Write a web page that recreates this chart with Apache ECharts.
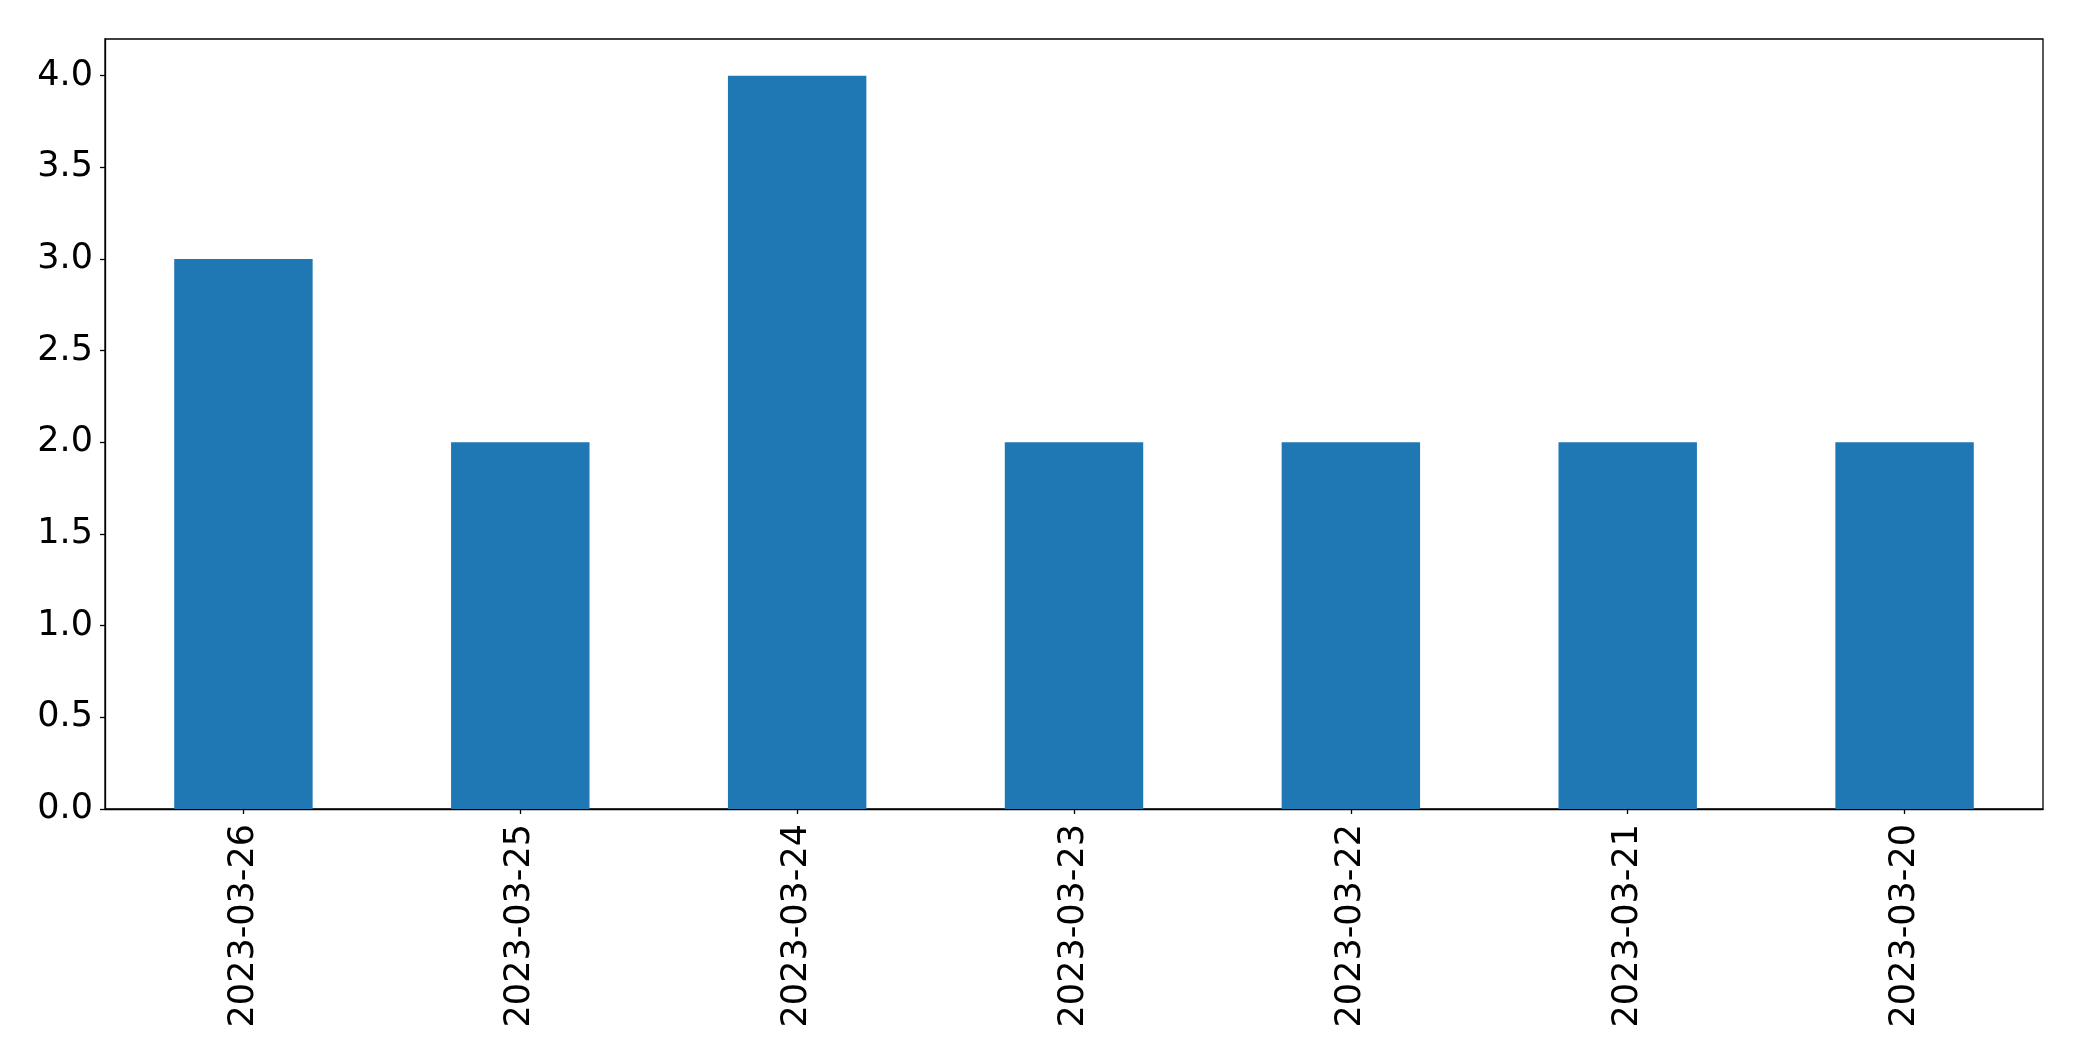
<!DOCTYPE html>
<html>
<head>
<meta charset="utf-8">
<script src="https://cdn.jsdelivr.net/npm/echarts@6/dist/echarts.min.js"></script>
<style>
html,body{margin:0;padding:0;background:#fff;}
#chart{width:2082px;height:1061px;}
</style>
</head>
<body>
<div id="chart"></div>
<script>
const categories = ['2023-03-26','2023-03-25','2023-03-24','2023-03-23','2023-03-22','2023-03-21','2023-03-20'];
const values = [3, 2, 4, 2, 2, 2, 2];
const yTicks = [0, 0.5, 1, 1.5, 2, 2.5, 3, 3.5, 4];

const chart = echarts.init(document.getElementById('chart'), null, {renderer: 'canvas'});
const font = 'DejaVu Sans';
chart.setOption({
  animation: false,
  backgroundColor: '#fff',
  grid: {left: 105, right: 39, top: 39, bottom: 252, show: true, borderColor: '#000', borderWidth: 1.3, backgroundColor: 'transparent'},
  xAxis: {
    type: 'category',
    data: categories,
    boundaryGap: true,
    axisLine: {show: true, lineStyle: {color: '#000', width: 1.3}},
    axisTick: {show: true, alignWithLabel: true, length: 5, lineStyle: {color: '#000', width: 1.3}},
    axisLabel: {rotate: 90, margin: 15, fontFamily: font, fontSize: 35, color: '#000', interval: 0}
  },
  yAxis: {
    type: 'value',
    min: 0,
    max: 4.2,
    interval: 0.5,
    splitLine: {show: false},
    axisLine: {show: true, lineStyle: {color: '#000', width: 1.3}},
    axisTick: {show: true, length: 5, lineStyle: {color: '#000', width: 1.3}, customValues: yTicks},
    axisLabel: {margin: 12, fontFamily: font, fontSize: 35, color: '#000', customValues: yTicks,
      padding: [14, 0, 0, 0],
      formatter: v => Number(v).toFixed(1)}
  },
  series: [{
    type: 'bar',
    data: values,
    barWidth: '50%',
    itemStyle: {color: '#1f77b4'}
  }]
});
</script>
</body>
</html>
